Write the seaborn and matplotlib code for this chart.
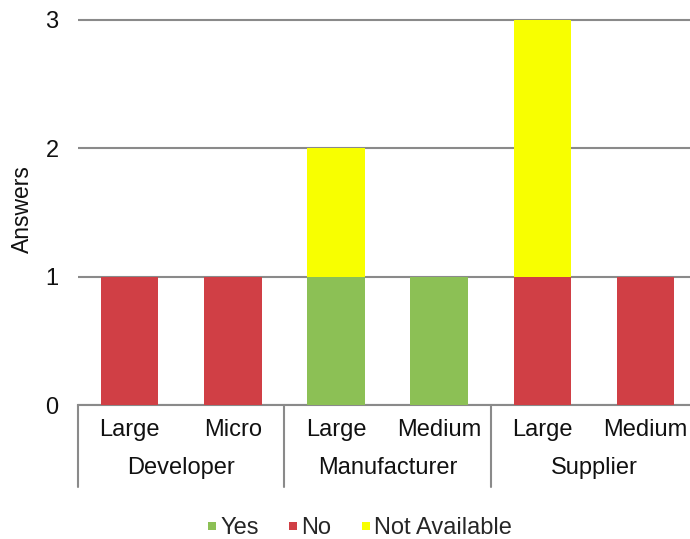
import matplotlib
matplotlib.use("Agg")
import matplotlib.pyplot as plt
from matplotlib.lines import Line2D
from matplotlib.transforms import blended_transform_factory
import numpy as np
import pandas as pd
import seaborn as sns

# Survey answers per company type and size
groups = ["Developer", "Developer", "Manufacturer", "Manufacturer", "Supplier", "Supplier"]
sizes = ["Large", "Micro", "Large", "Medium", "Large", "Medium"]
yes = [0, 0, 1, 1, 0, 0]
no = [1, 1, 0, 0, 1, 1]
not_available = [0, 0, 1, 0, 2, 0]

series_names = ["Yes", "No", "Not Available"]
colors = {"Yes": "#8CC055", "No": "#D03F45", "Not Available": "#F8FF00"}
group_names = ["Developer", "Manufacturer", "Supplier"]
y_ticks = [0, 1, 2, 3]

sns.set_theme(style="white")
plt.rcParams["font.family"] = ["Liberation Sans", "DejaVu Sans"]

df = pd.DataFrame({"group": groups, "size": sizes,
                   "Yes": yes, "No": no, "Not Available": not_available})
df["key"] = [f"{g}|{s}" for g, s in zip(groups, sizes)]
df["c_yes"] = df["Yes"]
df["c_no"] = df["Yes"] + df["No"]
df["c_all"] = df["Yes"] + df["No"] + df["Not Available"]
order = list(df["key"])

fig = plt.figure(figsize=(6.9, 5.39), dpi=100)
ax_bottom = (539 - 405) / 539
unit = 385 / 3
top_px = 20 - 0.05 * unit
ax = fig.add_axes([78 / 690, ax_bottom, 1 - 78 / 690, (405 - top_px) / 539])

# Stacked bars: draw cumulative totals back to front
for col, name in [("c_all", "Not Available"), ("c_no", "No"), ("c_yes", "Yes")]:
    sns.barplot(data=df, x="key", y=col, order=order, color=colors[name],
                width=0.56, saturation=1, linewidth=0, ax=ax, zorder=3)

ax.set_xlim(-0.5, -0.5 + 612 / 103.2)
ax.set_ylim(0, 3.05)
ax.set_yticks(y_ticks)
ax.set_yticklabels([str(t) for t in y_ticks], fontsize=17, color="#111111")
ax.tick_params(axis="y", length=0, pad=14)
ax.set_xticks([])
ax.set_xlabel("")
ax.set_ylabel("Answers", fontsize=16.5, color="#111111", labelpad=8)
ax.yaxis.grid(True, color="#8a8a8a", linewidth=1.5, zorder=0)
ax.xaxis.grid(False)
for side in ["top", "right", "left"]:
    ax.spines[side].set_visible(False)
ax.spines["bottom"].set_color("#8a8a8a")
ax.spines["bottom"].set_linewidth(1.5)

# Two-level category axis below the bars
trans = blended_transform_factory(ax.transData, fig.transFigure)
sub_y = (539 - 430) / 539
grp_y = (539 - 468) / 539
box_bottom = (539 - 487) / 539
for i, s in enumerate(sizes):
    ax.text(i, sub_y, s, transform=trans, ha="center", va="center",
            fontsize=17, color="#111111", clip_on=False)
for j, g in enumerate(group_names):
    ax.text(2 * j + 0.5, grp_y, g, transform=trans, ha="center", va="center",
            fontsize=17, color="#111111", clip_on=False)
for xb in [-0.5, 1.5, 3.5, 5.5]:
    ax.add_line(Line2D([xb, xb], [ax_bottom, box_bottom], transform=trans,
                       color="#8a8a8a", linewidth=1.5, clip_on=False))

handles = [Line2D([], [], marker="s", linestyle="none", markersize=6,
                  markerfacecolor=colors[n], markeredgewidth=0) for n in series_names]
fig.legend(handles, series_names, loc="center", bbox_to_anchor=(359 / 690, (539 - 528) / 539),
           ncol=3, frameon=False, fontsize=17, handlelength=0.5, handletextpad=0.1,
           columnspacing=1.2, borderpad=0)

fig.savefig("out.png", dpi=100)
